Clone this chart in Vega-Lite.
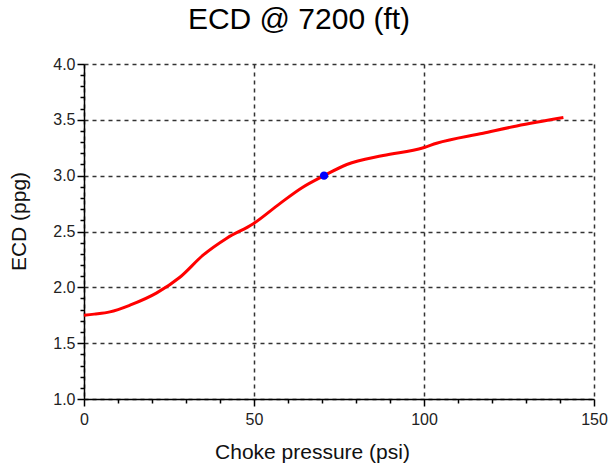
{
  "$schema": "https://vega.github.io/schema/vega-lite/v6.json",
  "autosize": "none",
  "width": 510,
  "height": 335,
  "padding": {"left": 84, "top": 64, "right": 15, "bottom": 67},
  "background": "white",
  "title": {
    "text": "ECD @ 7200 (ft)",
    "font": "Liberation Sans",
    "fontSize": 30,
    "fontWeight": "normal",
    "color": "#000000",
    "anchor": "middle",
    "frame": "group",
    "dx": -40,
    "dy": 28,
    "baseline": "alphabetic",
    "offset": 25
  },
  "datasets": {
    "curve": [
      {"p": 0, "ecd": 1.75},
      {"p": 3, "ecd": 1.76},
      {"p": 7.6, "ecd": 1.78},
      {"p": 13.5, "ecd": 1.84},
      {"p": 21.4, "ecd": 1.95},
      {"p": 28.2, "ecd": 2.09},
      {"p": 35.1, "ecd": 2.29},
      {"p": 42, "ecd": 2.44},
      {"p": 49.8, "ecd": 2.57},
      {"p": 57.6, "ecd": 2.75},
      {"p": 64, "ecd": 2.89},
      {"p": 70.6, "ecd": 3.0},
      {"p": 77.3, "ecd": 3.1},
      {"p": 88, "ecd": 3.18},
      {"p": 99.8, "ecd": 3.25},
      {"p": 103.7, "ecd": 3.29},
      {"p": 117.4, "ecd": 3.38},
      {"p": 127.3, "ecd": 3.445},
      {"p": 141, "ecd": 3.52}
    ],
    "marker": [
      {"p": 70.6, "ecd": 3.0}
    ]
  },
  "layer": [
    {
      "data": {"name": "curve"},
      "mark": {"type": "line", "color": "#ff0000", "strokeWidth": 3, "interpolate": "monotone"},
      "encoding": {
        "x": {
          "field": "p", "type": "quantitative",
          "scale": {"domain": [0, 150], "nice": false, "zero": false},
          "axis": {
            "orient": "bottom",
            "values": [0, 50, 100, 150],
            "title": "Choke pressure (psi)",
            "titleX": 228, "titleY": 53, "titleBaseline": "middle", "titleAnchor": "middle", "titleAlign": "center",
            "grid": true, "gridColor": "#333333", "gridDash": [4, 4], "gridWidth": 1.5, "gridOpacity": 1,
            "domainColor": "#000000", "domainWidth": 1.5,
            "tickColor": "#000000", "tickSize": 7, "tickWidth": 1.5,
            "labelPadding": 5, "labelFontSize": 16, "labelColor": "#222222", "labelFont": "Liberation Sans",
            "labelFlush": false, "labelOverlap": false,
            "titleFont": "Liberation Sans", "titleFontSize": 21, "titleFontWeight": "normal", "titleColor": "#111111"
          }
        },
        "y": {
          "field": "ecd", "type": "quantitative",
          "scale": {"domain": [1, 4], "nice": false, "zero": false},
          "axis": {
            "orient": "left",
            "values": [1.0, 1.5, 2.0, 2.5, 3.0, 3.5, 4.0],
            "format": ".1f",
            "title": "ECD (ppg)",
            "titleX": -65, "titleY": 157, "titleBaseline": "middle", "titleAnchor": "middle", "titleAlign": "center", "titleAngle": -90,
            "grid": true, "gridColor": "#333333", "gridDash": [4, 4], "gridWidth": 1.5, "gridOpacity": 1,
            "domainColor": "#000000", "domainWidth": 1.5,
            "tickColor": "#000000", "tickSize": 7, "tickWidth": 1.5,
            "labelPadding": 2, "labelFontSize": 16, "labelColor": "#222222", "labelFont": "Liberation Sans",
            "labelFlush": false, "labelOverlap": false,
            "titleFont": "Liberation Sans", "titleFontSize": 21, "titleFontWeight": "normal", "titleColor": "#111111"
          }
        }
      }
    },
    {
      "data": {"name": "marker"},
      "mark": {"type": "point", "filled": true, "color": "#0000ff", "size": 70, "opacity": 1},
      "encoding": {
        "x": {
          "field": "p", "type": "quantitative",
          "axis": {
            "orient": "bottom",
            "values": [10, 20, 30, 40, 60, 70, 80, 90, 110, 120, 130, 140],
            "labels": false, "title": null, "grid": false, "domain": false,
            "tickColor": "#000000", "tickSize": 4, "tickWidth": 1.5
          }
        },
        "y": {
          "field": "ecd", "type": "quantitative",
          "axis": {
            "orient": "left",
            "values": [1.1, 1.2, 1.3, 1.4, 1.6, 1.7, 1.8, 1.9, 2.1, 2.2, 2.3, 2.4, 2.6, 2.7, 2.8, 2.9, 3.1, 3.2, 3.3, 3.4, 3.6, 3.7, 3.8, 3.9],
            "labels": false, "title": null, "grid": false, "domain": false,
            "tickColor": "#000000", "tickSize": 4, "tickWidth": 1.5
          }
        }
      }
    }
  ],
  "resolve": {"axis": {"x": "independent", "y": "independent"}},
  "config": {"view": {"stroke": null}}
}
